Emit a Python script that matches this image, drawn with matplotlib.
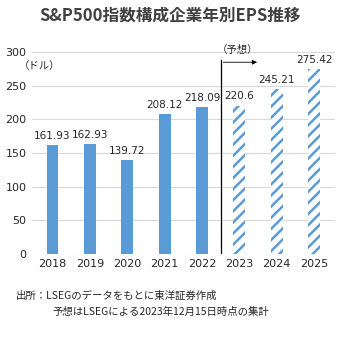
import matplotlib.pyplot as plt
import numpy as np

plt.rcParams['font.family'] = ['Noto Sans CJK JP', 'DejaVu Sans']
plt.rcParams['hatch.linewidth'] = 1.8

years = ['2018', '2019', '2020', '2021', '2022', '2023', '2024', '2025']
eps = [161.93, 162.93, 139.72, 208.12, 218.09, 220.6, 245.21, 275.42]
labels = ['161.93', '162.93', '139.72', '208.12', '218.09', '220.6', '245.21', '275.42']
is_forecast = [False, False, False, False, False, True, True, True]

blue = '#5B9BD5'
text_col = '#262626'

fig = plt.figure(figsize=(3.4, 3.43), dpi=100)
ax = fig.add_axes([0.094, 0.26, 0.89, 0.588])

x = np.arange(len(years))
for xi, v, f in zip(x, eps, is_forecast):
    if f:
        ax.bar(xi, v, width=0.32, facecolor='white', edgecolor=blue,
               hatch='///', linewidth=0, zorder=3)
    else:
        ax.bar(xi, v, width=0.32, color=blue, zorder=3)

for xi, v, lab in zip(x, eps, labels):
    ax.text(xi, v + 6, lab, ha='center', va='bottom', fontsize=7.5,
            color=text_col, family='DejaVu Sans')

ax.set_ylim(0, 300)
ax.set_xlim(-0.55, len(years) - 0.45)
ax.set_yticks(range(0, 301, 50))
ax.set_xticks(x)
ax.set_xticklabels(years)
ax.tick_params(length=0, labelsize=8, colors=text_col, pad=4)
for lab in ax.get_xticklabels() + ax.get_yticklabels():
    lab.set_family('DejaVu Sans')
ax.grid(axis='y', color='#d9d9d9', linewidth=0.8, zorder=0)
for s in ax.spines.values():
    s.set_visible(False)

# forecast divider and arrow
ax.plot([4.5, 4.5], [0, 288], color='black', linewidth=0.9, zorder=4)
ax.annotate('', xy=(5.55, 285), xytext=(4.5, 285),
            arrowprops=dict(arrowstyle='-|>', color='black', lw=0.6,
                            mutation_scale=7), zorder=4)
ax.text(4.95, 296, '（予想）', ha='center', va='bottom', fontsize=7.5,
        color=text_col, clip_on=False)

ax.text(-0.9, 280, '（ドル）', ha='left', va='center', fontsize=7.5,
        color=text_col, clip_on=False)

fig.text(0.5, 0.955, 'S&P500指数構成企業年別EPS推移', ha='center', va='center',
         fontsize=12, fontweight='bold', color='#404040')

fig.text(0.045, 0.138, '出所：LSEGのデータをもとに東洋証券作成', ha='left',
         va='center', fontsize=7.5, color=text_col)
fig.text(0.155, 0.09, '予想はLSEGによる2023年12月15日時点の集計', ha='left',
         va='center', fontsize=7.5, color=text_col)

fig.savefig('out.png', dpi=100)
